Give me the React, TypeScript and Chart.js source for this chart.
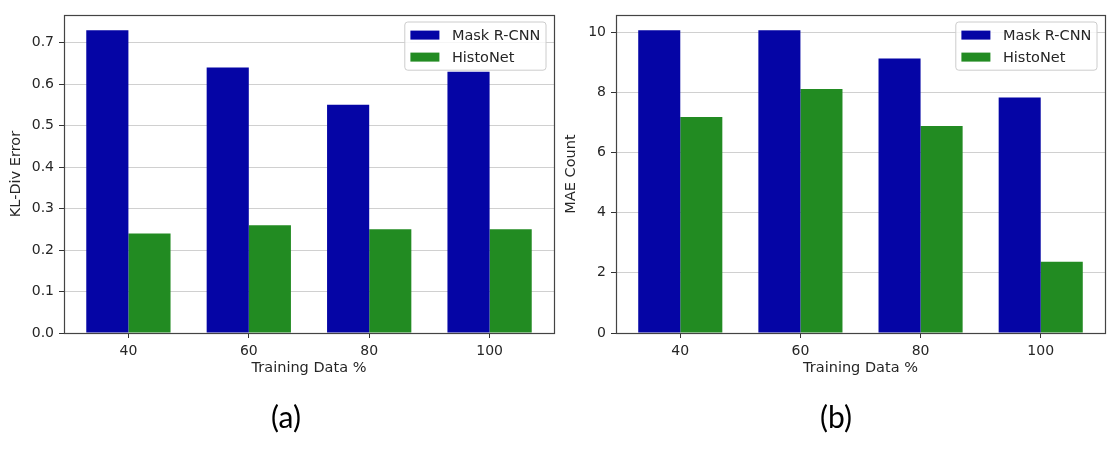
import React, { useEffect, useRef } from 'react';
import { Chart, registerables } from 'chart.js';

Chart.register(...registerables);

// ---- data ----
const categories = ['40', '60', '80', '100'];
const seriesNames = ['Mask R-CNN', 'HistoNet'];
const seriesColors = ['#0505a5', '#228b22'];
const klMask = [0.73, 0.64, 0.55, 0.63];
const klHisto = [0.24, 0.26, 0.25, 0.25];
const maeMask = [10.07, 10.07, 9.13, 7.83];
const maeHisto = [7.18, 8.11, 6.88, 2.37];
const klTicks = [0, 0.1, 0.2, 0.3, 0.4, 0.5, 0.6, 0.7];
const maeTicks = [0, 2, 4, 6, 8, 10];
const xLabel = 'Training Data %';
const yLabels = ['KL-Div Error', 'MAE Count'];
const captions = ['(a)', '(b)'];

const FONT = "'DejaVu Sans', sans-serif";
const TEXT = '#262626';
const FS = 14;
const FS_TITLE = 14.5;

const frameLegendPlugin = {
  id: 'frameLegend',
  afterDatasetsDraw(chart: any) {
    const { ctx, chartArea: a } = chart;
    ctx.save();
    // frame
    ctx.strokeStyle = '#444444';
    ctx.lineWidth = 1.2;
    ctx.strokeRect(a.left + 0.5, a.top + 0.5, a.right - a.left, a.bottom - a.top);
    // legend
    ctx.font = `${FS_TITLE}px ${FONT}`;
    const pad = 5.6;
    const handle = 29;
    const gap = 12.5;
    const rowH = 15;
    const spacing = 7;
    const textW = Math.max(...seriesNames.map((n) => ctx.measureText(n).width));
    const w = pad + handle + gap + textW + pad;
    const h = pad * 2 + rowH * seriesNames.length + spacing * (seriesNames.length - 1);
    const x = a.right - 8 - w;
    const y = a.top + 7;
    ctx.beginPath();
    const r = 3;
    ctx.moveTo(x + r, y);
    ctx.lineTo(x + w - r, y);
    ctx.arcTo(x + w, y, x + w, y + r, r);
    ctx.lineTo(x + w, y + h - r);
    ctx.arcTo(x + w, y + h, x + w - r, y + h, r);
    ctx.lineTo(x + r, y + h);
    ctx.arcTo(x, y + h, x, y + h - r, r);
    ctx.lineTo(x, y + r);
    ctx.arcTo(x, y, x + r, y, r);
    ctx.closePath();
    ctx.fillStyle = 'rgba(255,255,255,0.8)';
    ctx.fill();
    ctx.lineWidth = 1;
    ctx.strokeStyle = '#cccccc';
    ctx.stroke();
    seriesNames.forEach((name, i) => {
      const cy = y + pad + rowH / 2 + i * (rowH + spacing);
      ctx.fillStyle = seriesColors[i];
      ctx.fillRect(x + pad, cy - 4.5, handle, 9);
      ctx.fillStyle = TEXT;
      ctx.textBaseline = 'middle';
      ctx.textAlign = 'left';
      ctx.fillText(name, x + pad + handle + gap, cy + 1);
    });
    ctx.restore();
  },
};

type PanelProps = {
  mask: number[];
  histo: number[];
  ticks: number[];
  decimals: number;
  yLabel: string;
  left: number;
  width: number;
  axisWidth: number;
  padRight: number;
  titlePadTop: number;
};

function Panel(p: PanelProps) {
  const ref = useRef<HTMLCanvasElement>(null);
  useEffect(() => {
    const yMax = Math.max(...p.mask, ...p.histo) * 1.05;
    const xMin = -0.35 - 0.05 * (categories.length - 1 + 0.7);
    const xMax = categories.length - 1 + 0.35 + 0.05 * (categories.length - 1 + 0.7);
    const chart = new Chart(ref.current!, {
      type: 'bar',
      data: {
        datasets: [
          {
            label: seriesNames[0],
            data: p.mask.map((v, i) => ({ x: i, y: v })),
            backgroundColor: seriesColors[0],
            borderWidth: 0,
          },
          {
            label: seriesNames[1],
            data: p.histo.map((v, i) => ({ x: i, y: v })),
            backgroundColor: seriesColors[1],
            borderWidth: 0,
          },
        ],
      },
      options: {
        responsive: false,
        animation: false,
        devicePixelRatio: 1,
        layout: { padding: { left: 0, top: 15, right: p.padRight, bottom: 79 } },
        datasets: { bar: { categoryPercentage: 0.7, barPercentage: 1.0 } },
        plugins: { legend: { display: false }, tooltip: { enabled: false } },
        scales: {
          x: {
            type: 'linear',
            min: xMin,
            max: xMax,
            offset: false,
            grid: {
              offset: false,
              drawOnChartArea: false,
              tickLength: 5,
              tickColor: '#333333',
              color: '#333333',
            },
            border: { display: false },
            ticks: {
              padding: 5,
              color: TEXT,
              font: { family: FONT, size: FS },
              callback: (v: any) => categories[Number(v)] ?? '',
            },
            afterBuildTicks: (scale: any) => {
              scale.ticks = categories.map((_, i) => ({ value: i }));
            },
            afterFit: (scale: any) => {
              scale.height = 44;
            },
            title: {
              display: true,
              text: xLabel,
              color: TEXT,
              font: { family: FONT, size: FS_TITLE },
              padding: { top: 0, bottom: 0 },
            },
          },
          y: {
            type: 'linear',
            min: 0,
            max: yMax,
            grid: {
              color: '#d0d0d0',
              lineWidth: 1,
              tickLength: 5,
              tickColor: '#333333',
            },
            border: { display: false },
            ticks: {
              padding: 5,
              color: TEXT,
              font: { family: FONT, size: FS },
              callback: (v: any) => Number(v).toFixed(p.decimals),
            },
            afterBuildTicks: (scale: any) => {
              scale.ticks = p.ticks.map((v) => ({ value: v }));
            },
            afterFit: (scale: any) => {
              scale.width = p.axisWidth;
            },
            title: {
              display: true,
              text: p.yLabel,
              color: TEXT,
              font: { family: FONT, size: FS_TITLE },
              padding: { top: p.titlePadTop, bottom: 0 },
            },
          },
        },
      },
      plugins: [frameLegendPlugin],
    } as any);
    return () => chart.destroy();
  }, []);
  return (
    <canvas
      ref={ref}
      width={p.width}
      height={456}
      style={{ position: 'absolute', left: p.left, top: 0, display: 'block' }}
    />
  );
}

const captionStyle: React.CSSProperties = {
  position: 'absolute',
  top: 397,
  width: 60,
  textAlign: 'center',
  fontFamily: "Lato, 'Open Sans', sans-serif",
  fontSize: 30,
  color: '#000',
  lineHeight: '38px',
};

export default function App() {
  return (
    <div
      style={{
        position: 'absolute',
        left: 0,
        top: 0,
        width: 1119,
        height: 456,
        background: '#ffffff',
        overflow: 'hidden',
      }}
    >
      <Panel
        mask={klMask}
        histo={klHisto}
        ticks={klTicks}
        decimals={1}
        yLabel={yLabels[0]}
        left={0}
        width={560}
        axisWidth={64}
        padRight={6}
        titlePadTop={8}
      />
      <Panel
        mask={maeMask}
        histo={maeHisto}
        ticks={maeTicks}
        decimals={0}
        yLabel={yLabels[1]}
        left={560}
        width={559}
        axisWidth={56}
        padRight={14}
        titlePadTop={3}
      />
      <div style={{ ...captionStyle, left: 256 }}>{captions[0]}</div>
      <div style={{ ...captionStyle, left: 806 }}>{captions[1]}</div>
    </div>
  );
}
